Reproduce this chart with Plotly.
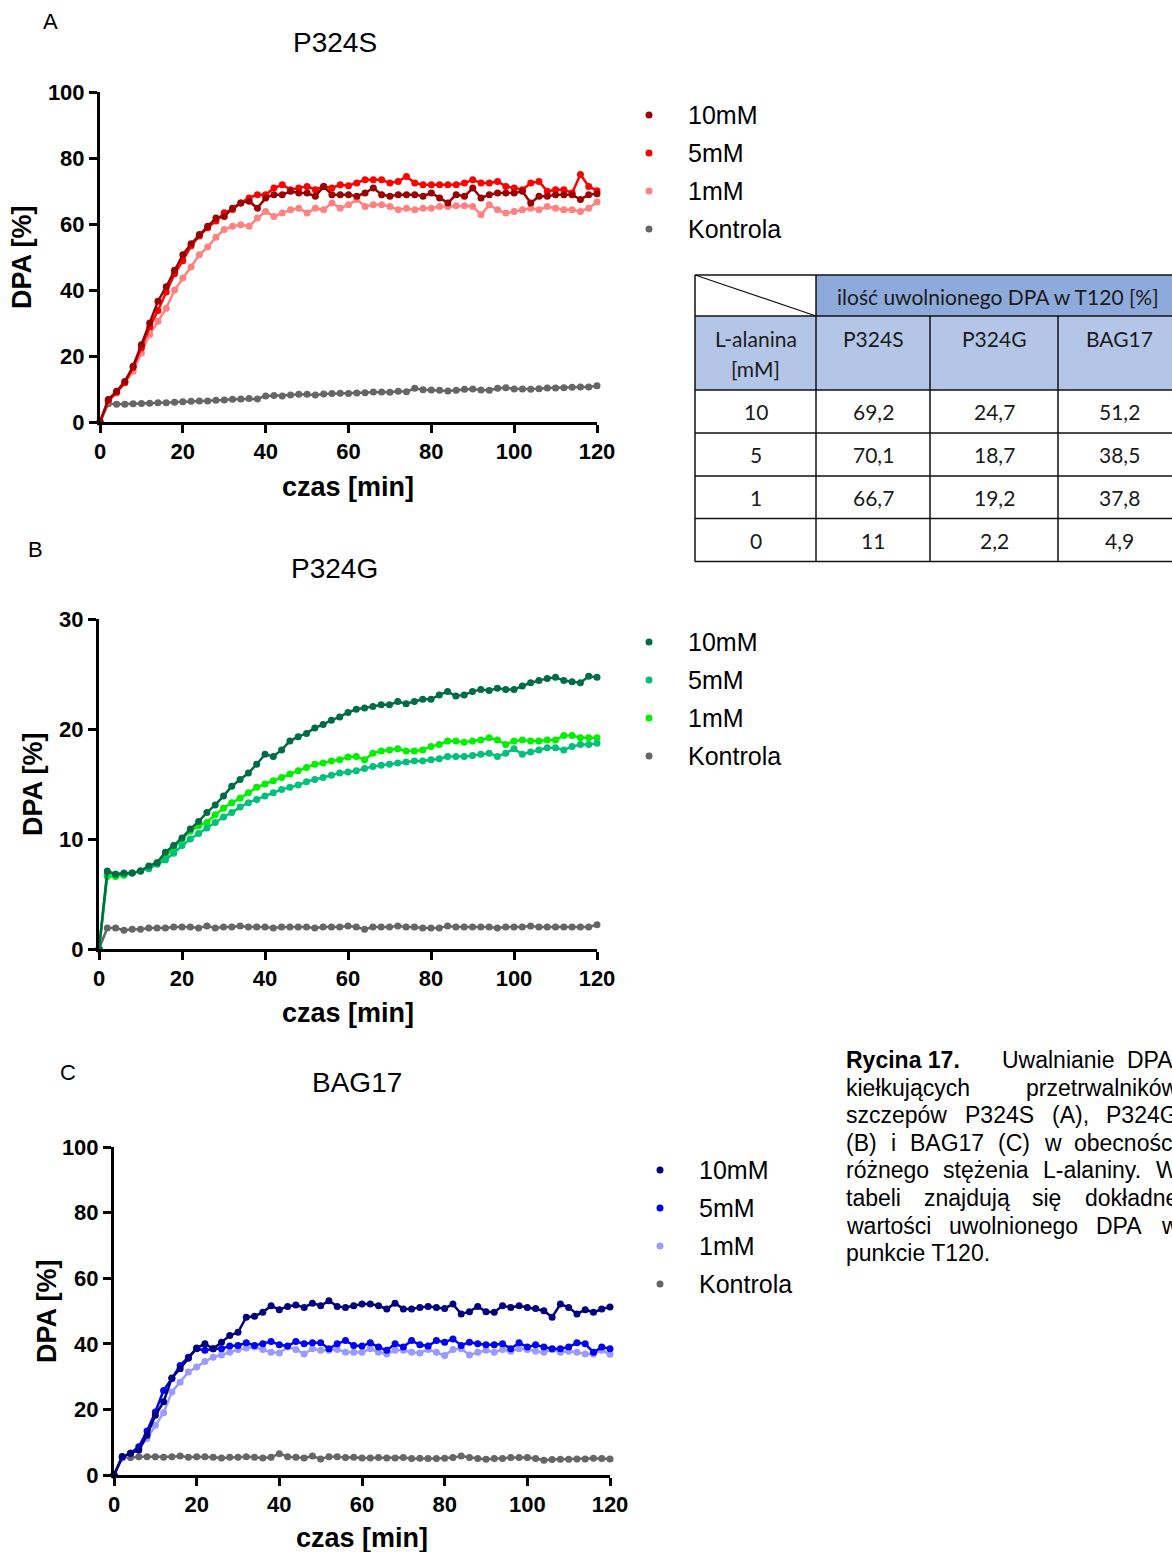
import plotly.graph_objects as go

W, H = 1172, 1552


def X(px):
    return px / W


def Y(py):
    return 1 - py / H


# ---------------- data ----------------
time_min = list(range(0, 121, 2))

p324s_10mM = [0, 6.8, 9.3, 12.3, 16.9, 23.4, 30.0, 36.6, 41.0, 46.0, 50.7, 54.0, 56.8, 59.3, 61.8, 62.3,
              64.8, 66.4, 66.9, 64.8, 67.9, 68.9, 68.9, 69.9, 69.4, 69.4, 68.4, 71.4, 68.9, 68.9, 68.9,
              68.4, 69.4, 70.9, 68.9, 68.4, 68.9, 68.9, 68.9, 68.4, 69.4, 67.9, 66.4, 68.9, 68.4, 70.9,
              67.9, 68.9, 69.4, 69.4, 69.4, 69.9, 66.4, 68.4, 68.4, 68.9, 68.9, 68.9, 67.4, 68.9, 69.2]
p324s_5mM = [0, 6.5, 9.0, 12.0, 16.5, 22.4, 28.8, 33.8, 39.4, 44.9, 48.9, 53.4, 56.4, 58.9, 60.9, 63.4,
             64.4, 66.4, 67.9, 68.9, 68.9, 70.9, 71.9, 70.4, 70.9, 71.4, 70.4, 71.4, 70.9, 71.9, 71.6,
             72.4, 73.4, 73.4, 73.4, 72.4, 72.9, 74.4, 72.4, 71.9, 71.9, 71.9, 71.9, 71.9, 72.4, 73.4,
             72.4, 72.4, 72.9, 71.4, 70.9, 70.4, 72.4, 72.9, 69.9, 70.4, 70.4, 69.4, 75.0, 71.4, 70.1]
p324s_1mM = [0, 6.3, 8.8, 11.8, 15.4, 20.9, 26.5, 30.5, 34.5, 40.0, 43.6, 47.0, 50.7, 53.0, 56.0, 58.3,
             59.3, 59.8, 59.3, 61.8, 63.8, 62.3, 63.3, 64.3, 64.8, 63.3, 64.8, 64.3, 66.4, 64.8, 65.8,
             67.4, 65.3, 65.8, 65.8, 65.3, 64.3, 64.8, 64.3, 64.8, 64.8, 65.3, 65.3, 65.5, 65.5, 65.3,
             62.8, 65.8, 64.3, 63.3, 63.8, 64.3, 64.8, 64.3, 65.3, 64.8, 64.3, 64.3, 63.8, 64.8, 66.7]
p324s_ctrl = [0, 5.5, 5.4, 5.4, 5.5, 5.6, 5.7, 5.8, 5.8, 6.0, 6.1, 6.3, 6.4, 6.4, 6.6, 6.7, 6.9, 7.0,
              7.1, 7.0, 7.9, 8.0, 7.9, 8.2, 8.4, 8.4, 8.2, 8.5, 8.6, 8.7, 8.6, 8.8, 8.9, 9.1, 9.1, 9.0,
              9.3, 9.2, 10.2, 9.8, 9.7, 9.6, 9.4, 9.6, 9.9, 10.0, 9.7, 9.6, 10.2, 10.4, 10.0, 10.0, 9.9,
              10.1, 10.3, 10.3, 10.4, 10.5, 10.6, 10.6, 11.0]

p324g_10mM = [0, 7.1, 6.8, 6.9, 6.9, 7.1, 7.55, 7.85, 8.8, 9.4, 10.1, 10.9, 11.6, 12.4, 13.1, 13.9, 14.8,
              15.4, 16.0, 16.8, 17.7, 17.5, 18.1, 18.9, 19.3, 19.6, 20.1, 20.4, 20.8, 21.1, 21.5, 21.8,
              21.9, 22.05, 22.2, 22.2, 22.5, 22.3, 22.5, 22.7, 22.7, 23.1, 23.4, 23.0, 23.1, 23.4, 23.6,
              23.5, 23.7, 23.6, 23.6, 23.9, 24.2, 24.4, 24.6, 24.7, 24.4, 24.3, 24.2, 24.8, 24.7]
p324g_5mM = [0, 6.9, 6.8, 6.8, 6.9, 7.1, 7.3, 7.7, 8.1, 8.7, 9.4, 10.0, 10.5, 11.0, 11.5, 12.0, 12.4,
             12.9, 13.3, 13.6, 13.9, 14.2, 14.5, 14.7, 14.9, 15.2, 15.4, 15.6, 15.8, 16.0, 16.1, 16.2,
             16.4, 16.6, 16.7, 16.8, 16.9, 17.0, 17.1, 17.1, 17.2, 17.3, 17.5, 17.5, 17.5, 17.6, 17.7,
             17.8, 17.5, 17.8, 18.2, 17.7, 17.9, 18.1, 18.3, 18.3, 18.1, 18.4, 18.6, 18.6, 18.7]
p324g_1mM = [0, 6.6, 6.6, 6.7, 6.9, 7.1, 7.4, 7.85, 8.5, 9.2, 10.0, 10.7, 11.2, 11.5, 12.2, 12.8, 13.3,
             13.7, 14.2, 14.7, 15.0, 15.3, 15.6, 15.9, 16.2, 16.5, 16.8, 16.9, 17.1, 17.2, 17.45, 17.5,
             17.2, 17.8, 18.0, 18.1, 18.2, 18.0, 18.0, 18.1, 18.4, 18.6, 18.9, 18.9, 18.8, 18.9, 19.0,
             19.2, 19.0, 18.6, 18.9, 19.0, 18.9, 18.9, 19.0, 19.0, 19.4, 19.4, 19.2, 19.2, 19.2]
p324g_ctrl = [0, 1.9, 1.9, 1.7, 1.8, 1.8, 1.9, 1.9, 1.9, 2.0, 2.0, 2.0, 1.9, 2.1, 1.9, 2.0, 2.0, 2.1,
              2.0, 2.0, 2.0, 1.9, 2.0, 2.0, 2.0, 2.0, 1.9, 2.0, 2.0, 2.0, 2.1, 2.0, 1.8, 2.0, 2.0, 2.0,
              2.1, 2.0, 2.0, 1.9, 1.9, 1.9, 2.1, 2.0, 2.0, 2.0, 2.0, 2.0, 1.9, 2.0, 2.0, 2.0, 2.1, 2.0,
              2.0, 2.0, 2.0, 2.0, 2.0, 2.0, 2.2]

bag17_10mM = [0, 5.6, 6.6, 7.6, 12.1, 18.2, 22.3, 29.6, 32.4, 35.6, 38.7, 40.0, 38.5, 40.5, 42.5, 43.5,
              48.1, 48.4, 49.6, 51.6, 50.4, 51.4, 51.8, 51.1, 52.4, 51.6, 53.1, 51.4, 51.1, 51.6, 52.1,
              52.1, 51.6, 50.6, 52.4, 50.6, 50.6, 51.1, 51.4, 51.1, 50.8, 52.1, 49.1, 49.8, 51.4, 49.8,
              49.6, 51.6, 51.1, 51.6, 51.1, 50.8, 50.1, 48.1, 52.1, 51.1, 49.1, 50.4, 49.6, 50.6, 51.2]
bag17_5mM = [0, 5.6, 6.6, 8.6, 13.4, 19.2, 25.8, 29.4, 33.4, 35.9, 38.5, 38.0, 38.5, 38.5, 39.3, 39.5,
             40.3, 39.5, 40.0, 40.7, 39.7, 39.3, 40.7, 40.0, 40.3, 40.3, 38.5, 40.0, 41.0, 39.5, 39.3,
             40.3, 39.0, 38.0, 40.0, 39.0, 41.0, 39.7, 39.3, 41.0, 40.5, 41.5, 39.5, 40.5, 40.0, 39.7,
             39.7, 40.0, 38.5, 40.3, 39.0, 39.7, 39.0, 38.5, 38.5, 39.0, 40.3, 40.0, 37.4, 39.0, 38.5]
bag17_1mM = [0, 5.1, 6.6, 8.1, 11.1, 15.2, 19.0, 25.3, 28.3, 31.4, 32.9, 34.6, 35.9, 36.6, 37.4, 38.3,
             38.7, 39.0, 38.3, 37.4, 37.2, 39.0, 38.3, 36.9, 38.5, 38.0, 38.0, 38.3, 37.4, 37.4, 37.4,
             38.5, 37.4, 36.9, 38.0, 38.0, 37.4, 37.2, 38.3, 37.4, 36.4, 38.3, 38.5, 36.6, 37.4, 38.0,
             37.4, 38.3, 37.7, 38.5, 38.3, 37.7, 37.4, 38.3, 37.4, 37.7, 37.4, 36.9, 36.9, 38.0, 36.8]
bag17_ctrl = [0, 5.6, 5.3, 5.6, 5.6, 5.6, 5.4, 5.6, 5.8, 5.4, 5.6, 5.6, 5.4, 5.2, 5.4, 5.4, 5.6, 5.4,
              5.2, 5.4, 6.5, 5.6, 5.4, 5.2, 5.8, 4.9, 5.6, 5.6, 5.3, 5.4, 5.2, 5.2, 5.3, 5.2, 5.2, 5.3,
              5.0, 5.1, 5.0, 5.0, 5.1, 5.3, 5.8, 5.3, 5.0, 4.8, 5.0, 5.0, 5.3, 5.3, 5.3, 5.0, 4.5, 4.7,
              4.8, 4.8, 4.9, 4.9, 5.1, 5.0, 4.9]

series_names = ["10mM", "5mM", "1mM", "Kontrola"]
x_ticks = [0, 20, 40, 60, 80, 100, 120]

table_strains = ["P324S", "P324G", "BAG17"]
table_conc = ["10", "5", "1", "0"]
table_values = [["69,2", "24,7", "51,2"],
                ["70,1", "18,7", "38,5"],
                ["66,7", "19,2", "37,8"],
                ["11", "2,2", "4,9"]]

# ---------------- styling ----------------
ARIAL = "Liberation Sans, Arial, sans-serif"
TICK_FONT = dict(family=ARIAL, size=22, color="black", weight="bold")
TITLE_FONT = dict(family=ARIAL, size=27, color="black", weight="bold")

panels = [
    dict(letter="A", title="P324S", sfx="", xdom=(100, 597), ydom=(422, 92), yr=[0, 100],
         yticks=[0, 20, 40, 60, 80, 100],
         data=[p324s_10mM, p324s_5mM, p324s_1mM, p324s_ctrl],
         colors=["#9B0000", "#FF0000", "#FF8282", "#666666"],
         letter_pos=(50, 22), title_pos=(335, 42), ytitle_pos=(22, 257), xtitle_pos=(348, 487),
         leg_x=649, leg_tx=686, leg_y=[115, 153, 191, 229]),
    dict(letter="B", title="P324G", sfx="2", xdom=(99, 597), ydom=(949, 619), yr=[0, 30],
         yticks=[0, 10, 20, 30],
         data=[p324g_10mM, p324g_5mM, p324g_1mM, p324g_ctrl],
         colors=["#006C45", "#00C07C", "#00F000", "#666666"],
         letter_pos=(35, 549), title_pos=(334, 568), ytitle_pos=(33, 784), xtitle_pos=(348, 1013),
         leg_x=649, leg_tx=686, leg_y=[642, 680, 718, 756]),
    dict(letter="C", title="BAG17", sfx="3", xdom=(114, 610), ydom=(1475, 1147), yr=[0, 100],
         yticks=[0, 20, 40, 60, 80, 100],
         data=[bag17_10mM, bag17_5mM, bag17_1mM, bag17_ctrl],
         colors=["#00007E", "#0000F5", "#9B9BFF", "#666666"],
         letter_pos=(68, 1072), title_pos=(357, 1082), ytitle_pos=(47, 1311), xtitle_pos=(362, 1538),
         leg_x=660, leg_tx=697, leg_y=[1170, 1208, 1246, 1284]),
]

fig = go.Figure()
annotations = []
shapes = []
layout_axes = {}

for p in panels:
    xa = "x" + p["sfx"]
    ya = "y" + p["sfx"]
    # draw order: control, 1mM, 5mM, 10mM (10mM on top)
    for idx in [3, 2, 1, 0]:
        fig.add_trace(go.Scatter(
            x=time_min, y=p["data"][idx], xaxis=xa, yaxis=ya,
            mode="lines+markers", name=series_names[idx], showlegend=False,
            line=dict(color=p["colors"][idx], width=2.5),
            marker=dict(color=p["colors"][idx], size=7, line=dict(width=0)),
            cliponaxis=False, hoverinfo="x+y+name"))
    common = dict(showline=True, linewidth=3, linecolor="black", ticks="outside",
                  ticklen=8, tickwidth=3, tickcolor="black", showgrid=False, zeroline=False,
                  tickfont=TICK_FONT, fixedrange=True)
    layout_axes["xaxis" + p["sfx"]] = dict(
        domain=[X(p["xdom"][0]), X(p["xdom"][1])], range=[0, 120], tickmode="array",
        tickvals=x_ticks, anchor=ya, **common)
    layout_axes["yaxis" + p["sfx"]] = dict(
        domain=[Y(p["ydom"][0]), Y(p["ydom"][1])], range=p["yr"], tickmode="array",
        tickvals=p["yticks"], anchor=xa, **common)

    annotations.append(dict(text=p["letter"], x=X(p["letter_pos"][0]), y=Y(p["letter_pos"][1]),
                            xref="paper", yref="paper", showarrow=False, xanchor="center",
                            yanchor="middle", font=dict(family=ARIAL, size=22, color="black")))
    annotations.append(dict(text=p["title"], x=X(p["title_pos"][0]), y=Y(p["title_pos"][1]),
                            xref="paper", yref="paper", showarrow=False, xanchor="center",
                            yanchor="middle", font=dict(family=ARIAL, size=28, color="black")))
    annotations.append(dict(text="DPA [%]", x=X(p["ytitle_pos"][0]), y=Y(p["ytitle_pos"][1]),
                            xref="paper", yref="paper", showarrow=False, textangle=-90,
                            xanchor="center", yanchor="middle", font=TITLE_FONT))
    annotations.append(dict(text="czas [min]", x=X(p["xtitle_pos"][0]), y=Y(p["xtitle_pos"][1]),
                            xref="paper", yref="paper", showarrow=False,
                            xanchor="center", yanchor="middle", font=TITLE_FONT))
    # legend
    r = 3.5
    for i, name in enumerate(series_names):
        cy = p["leg_y"][i]
        shapes.append(dict(type="circle", xref="paper", yref="paper",
                           x0=X(p["leg_x"] - r), x1=X(p["leg_x"] + r),
                           y0=Y(cy + r), y1=Y(cy - r),
                           fillcolor=p["colors"][i], line=dict(width=0)))
        annotations.append(dict(text=name, x=X(p["leg_tx"]), y=Y(cy), xref="paper", yref="paper",
                                showarrow=False, xanchor="left", yanchor="middle",
                                font=dict(family=ARIAL, size=25, color="black")))

# ---------------- table ----------------
TL, TR = 695, 1180
col_x = [695, 816, 930, 1058, 1180]
row_y = [275, 316, 390, 433, 476, 518.5, 561.5]
TFONT = dict(family="Lato, Open Sans, sans-serif", size=21, color="#1a1a1a")
BORDER = dict(color="#111111", width=1.5)

shapes.append(dict(type="rect", xref="paper", yref="paper", x0=X(816), x1=X(TR),
                   y0=Y(row_y[1]), y1=Y(row_y[0]), fillcolor="#8EAADB", line=dict(width=0),
                   layer="below"))
shapes.append(dict(type="rect", xref="paper", yref="paper", x0=X(TL), x1=X(TR),
                   y0=Y(row_y[2]), y1=Y(row_y[1]), fillcolor="#B4C6E7", line=dict(width=0),
                   layer="below"))
for ry in row_y:
    shapes.append(dict(type="line", xref="paper", yref="paper", x0=X(TL), x1=X(TR),
                       y0=Y(ry), y1=Y(ry), line=BORDER))
for i, cx in enumerate(col_x):
    top = row_y[1] if i in (2, 3) else row_y[0]
    shapes.append(dict(type="line", xref="paper", yref="paper", x0=X(cx), x1=X(cx),
                       y0=Y(row_y[-1]), y1=Y(top), line=BORDER))
shapes.append(dict(type="line", xref="paper", yref="paper", x0=X(TL), x1=X(816),
                   y0=Y(row_y[0]), y1=Y(row_y[1]), line=dict(color="#111111", width=1.2)))


def tcell(text, cx, cy):
    annotations.append(dict(text=text, x=X(cx), y=Y(cy), xref="paper", yref="paper",
                            showarrow=False, xanchor="center", yanchor="middle", font=TFONT))


tcell("ilość uwolnionego DPA w T120 [%]", (816 + TR) / 2, 296)
tcell("L-alanina", 755.5, 338)
tcell("[mM]", 755.5, 368)
for j, s in enumerate(table_strains):
    tcell(s, (col_x[j + 1] + col_x[j + 2]) / 2, 338)
for i, c in enumerate(table_conc):
    cy = (row_y[i + 2] + row_y[i + 3]) / 2
    tcell(c, 755.5, cy)
    for j, v in enumerate(table_values[i]):
        tcell(v, (col_x[j + 1] + col_x[j + 2]) / 2, cy)

# ---------------- caption (justified) ----------------
CW = {' ': 278, '(': 333, ')': 333, ',': 278, '.': 278, '-': 333, 'A': 667, 'B': 667, 'C': 722,
      'D': 722, 'G': 778, 'L': 556, 'P': 667, 'S': 667, 'T': 611, 'U': 722, 'W': 944,
      'a': 556, 'b': 556, 'c': 500, 'd': 556, 'e': 556, 'g': 556, 'h': 556, 'i': 222, 'j': 222,
      'k': 500, 'l': 222, 'n': 556, 'o': 556, 'p': 556, 'r': 333, 's': 500, 't': 278, 'u': 556,
      'w': 722, 'y': 500, 'z': 500, 'ó': 556, 'ś': 500, 'ż': 500, 'ę': 556, 'ą': 556, 'ł': 222}
CAP_SIZE = 23


def tw(word):
    return sum(CW.get(ch, 556) for ch in word) / 1000 * CAP_SIZE


CAP_L, CAP_R = 845, 1177
cap_y0, cap_dy = 1060, 27.6
CAPFONT = dict(family=ARIAL, size=CAP_SIZE, color="black")


def cap_word(text, px, line):
    annotations.append(dict(text=text, x=X(px), y=Y(cap_y0 + cap_dy * line), xref="paper",
                            yref="paper", showarrow=False, xanchor="left", yanchor="middle",
                            font=CAPFONT, borderpad=0))


cap_word("<b>Rycina 17.</b>", CAP_L, 0)
cap_word("Uwalnianie", 1001, 0)
cap_word("DPA", 1126, 0)
just_lines = [["kiełkujących", "przetrwalników"],
              ["szczepów", "P324S", "(A),", "P324G"],
              ["(B)", "i", "BAG17", "(C)", "w", "obecności"],
              ["różnego", "stężenia", "L-alaniny.", "W"],
              ["tabeli", "znajdują", "się", "dokładne"],
              ["wartości", "uwolnionego", "DPA", "w"]]
for li, words in enumerate(just_lines, start=1):
    total = sum(tw(w) for w in words)
    gap = (CAP_R - CAP_L - total) / (len(words) - 1)
    px = CAP_L
    for w in words:
        cap_word(w, px, li)
        px += tw(w) + gap
cap_word("punkcie T120.", CAP_L, 7)

fig.update_layout(width=W, height=H, margin=dict(l=0, r=0, t=0, b=0, pad=0, autoexpand=False),
                  paper_bgcolor="white", plot_bgcolor="white", showlegend=False,
                  annotations=annotations, shapes=shapes, **layout_axes)

fig.write_html("out.html", config={"displayModeBar": False})
